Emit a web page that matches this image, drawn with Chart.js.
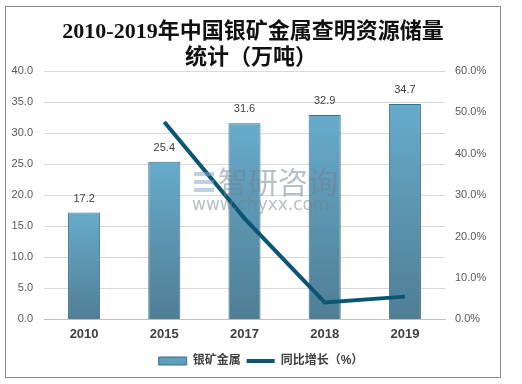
<!DOCTYPE html>
<html>
<head>
<meta charset="utf-8">
<script src="https://cdn.jsdelivr.net/npm/chart.js@4/dist/chart.umd.min.js"></script>
<style>
  html, body { margin: 0; padding: 0; background: #fff; }
  #wrap { width: 522px; height: 384px; }
</style>
</head>
<body>
<div id="wrap"><canvas id="silverChart" width="522" height="384"></canvas></div>
<script>
// Data
const years = ['2010', '2015', '2017', '2018', '2019'];
const reserves = [17.2, 25.4, 31.6, 32.9, 34.7];
const growth = [null, 47.7, 24.4, 4.1, 5.5];
const leftTicks = [0, 5, 10, 15, 20, 25, 30, 35, 40];
const rightTicks = [0, 10, 20, 30, 40, 50, 60];
const titleLines = ['2010-2019年中国银矿金属查明资源储量', '统计（万吨）'];

const cjk = '"Liberation Sans", "Noto Sans CJK SC", sans-serif';

// Bar gradient, light at the top of each bar
function barFill(context) {
    const chart = context.chart;
    if (!chart.chartArea || !chart.scales.y) return '#5d9dbd';
    const yTop = chart.scales.y.getPixelForValue(context.raw);
    const yBottom = chart.chartArea.bottom;
    const g = chart.ctx.createLinearGradient(0, yTop, 0, yBottom);
    g.addColorStop(0, '#67abcb');
    g.addColorStop(1, '#4f7e94');
    return g;
}

// Frame, title and watermark
const framePlugin = {
    id: 'frame',
    beforeDraw(chart) {
        const ctx = chart.ctx;
        ctx.save();
        ctx.fillStyle = '#ffffff';
        ctx.fillRect(0, 0, chart.width, chart.height);
        ctx.strokeStyle = '#8c8c8c';
        ctx.lineWidth = 1;
        ctx.strokeRect(5.5, 6.5, 495, 371);

        ctx.fillStyle = '#111111';
        ctx.textAlign = 'center';
        ctx.textBaseline = 'middle';
        ctx.font = 'bold 22px "Liberation Serif", "Noto Sans CJK SC", serif';
        ctx.fillText(titleLines[0], 253, 32);
        ctx.fillText(titleLines[1], 251, 58);
        ctx.restore();
    },
    afterDraw(chart) {
        const ctx = chart.ctx;
        ctx.save();
        ctx.globalAlpha = 0.5;
        ctx.fillStyle = '#6f7f8f';
        ctx.textBaseline = 'middle';
        ctx.textAlign = 'left';
        ctx.font = '30px "Noto Sans CJK SC", sans-serif';
        ctx.fillText('智研咨询', 218, 182);
        ctx.font = '17px "DejaVu Sans", sans-serif';
        ctx.fillText('www.chyxx.com', 192, 206);
        ctx.fillStyle = '#7fa6cc';
        ctx.fillRect(194, 172, 20, 4);
        ctx.fillRect(194, 180, 20, 4);
        ctx.fillRect(194, 188, 20, 4);
        ctx.restore();
    }
};

// Value labels above bars
const barLabels = {
    id: 'barLabels',
    afterDatasetsDraw(chart) {
        const ctx = chart.ctx;
        const meta = chart.getDatasetMeta(0);
        ctx.save();
        ctx.font = '11px "Liberation Sans", sans-serif';
        ctx.fillStyle = '#404040';
        ctx.textAlign = 'center';
        ctx.textBaseline = 'middle';
        meta.data.forEach((bar, i) => {
            ctx.fillText(reserves[i].toFixed(1), bar.x, bar.y - 14);
        });
        ctx.restore();
    }
};

const config = {
    data: {
        labels: years,
        datasets: [{
            type: 'bar',
            label: '银矿金属',
            data: reserves,
            backgroundColor: barFill,
            borderColor: '#3f6d83',
            borderWidth: 1,
            barPercentage: 0.4,
            categoryPercentage: 1.0,
            yAxisID: 'y',
            order: 2
        }, {
            type: 'line',
            label: '同比增长（%）',
            data: growth,
            borderColor: '#0c5573',
            borderWidth: 4,
            pointRadius: 0,
            tension: 0,
            yAxisID: 'y1',
            order: 1
        }]
    },
    options: {
        responsive: false,
        animation: false,
        layout: { padding: { left: 0, right: 0, top: 71, bottom: 7 } },
        scales: {
            x: {
                grid: { display: false, drawTicks: false },
                border: { color: '#bfbfbf' },
                ticks: {
                    padding: 7,
                    color: '#404040',
                    font: { family: '"Liberation Sans", sans-serif', size: 13, weight: 'bold' }
                }
            },
            y: {
                position: 'left',
                min: 0,
                max: 40,
                afterBuildTicks(scale) { scale.ticks = leftTicks.map(v => ({ value: v })); },
                afterFit(scale) { scale.width = 44; },
                grid: { color: '#d9d9d9', drawTicks: false },
                border: { display: false },
                ticks: {
                    padding: 11,
                    color: '#595959',
                    font: { family: '"Liberation Sans", sans-serif', size: 11 },
                    callback: v => v.toFixed(1)
                }
            },
            y1: {
                position: 'right',
                min: 0,
                max: 60,
                afterBuildTicks(scale) { scale.ticks = rightTicks.map(v => ({ value: v })); },
                afterFit(scale) { scale.width = 77; },
                grid: { display: false, drawTicks: false },
                border: { display: false },
                ticks: {
                    padding: 10,
                    color: '#595959',
                    font: { family: '"Liberation Sans", sans-serif', size: 11 },
                    callback: v => v.toFixed(1) + '%'
                }
            }
        },
        plugins: {
            title: { display: false },
            legend: {
                position: 'bottom',
                labels: {
                    usePointStyle: true,
                    pointStyleWidth: 28,
                    boxHeight: 8,
                    padding: 6,
                    color: '#404040',
                    font: { family: cjk, size: 12, weight: 'bold' },
                    generateLabels() {
                        return [{
                            text: '银矿金属', fillStyle: '#5e9ebe', strokeStyle: '#3f6d83',
                            lineWidth: 1, pointStyle: 'rect', datasetIndex: 0, fontColor: '#404040'
                        }, {
                            text: '同比增长（%）', fillStyle: '#0c5573', strokeStyle: '#0c5573',
                            lineWidth: 4, pointStyle: 'line', datasetIndex: 1, fontColor: '#404040'
                        }];
                    }
                }
            },
            tooltip: { enabled: false }
        }
    },
    plugins: [framePlugin, barLabels]
};

new Chart(document.getElementById('silverChart').getContext('2d'), config);
</script>
</body>
</html>
